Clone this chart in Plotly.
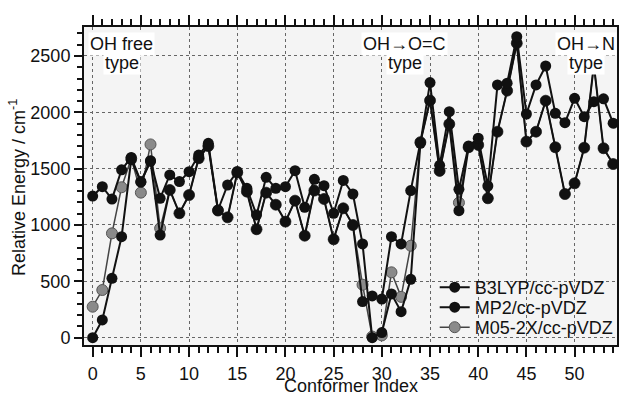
import plotly.graph_objects as go

conformer_index = list(range(55))

b3lyp = [1257, 1340, 1230, 1490, 1600, 1385, 1570, 1237, 1444, 1385,
         1473, 1620, 1725, 1133, 1355, 1475, 1325, 1089, 1423, 1325,
         1340, 1482, 1157, 1405, 1349, 1104, 1395, 1275, 832, 0,
         45, 388, 231, 518, 1725, 2264, 1530, 2006, 1317, 1701,
         1770, 1346, 2243, 2258, 2671, 1985, 2243, 2411, 1991, 1908,
         2124, 1961, 2094, 2120, 1903]

mp2 = [0, 157, 527, 896, 1580, 1380, 1565, 911, 1311, 1104,
       1266, 1592, 1700, 1128, 1068, 1465, 1296, 962, 1287, 1180,
       1030, 1216, 905, 1305, 1231, 873, 1148, 1000, 320, 370,
       343, 896, 832, 1305, 1735, 2105, 1480, 1896, 1127, 1690,
       1710, 1237, 1828, 2192, 2613, 1740, 1828, 2103, 1690, 1275,
       1370, 1686, 2420, 1681, 1541]

m052x = [275, 423, 926, 1335, 1590, 1287, 1715, 971, 1311, 1104,
         1266, 1592, 1700, 1128, 1068, 1465, 1296, 962, 1287, 1180,
         1030, 1216, 905, 1305, 1231, 873, 1148, 1000, 470, 10,
         20, 580, 362, 816, 1735, 2105, 1480, 1896, 1198, 1690,
         1710, 1237, 1828, 2192, 2613, 1740, 1828, 2103, 1690, 1275,
         1370, 1686, 2420, 1681, 1541]

series_names = ["B3LYP/cc-pVDZ", "MP2/cc-pVDZ", "M05-2X/cc-pVDZ"]
x_ticks = [0, 5, 10, 15, 20, 25, 30, 35, 40, 45, 50]
y_ticks = [0, 500, 1000, 1500, 2000, 2500]
region_titles = ["OH free", "OH→O=C", "OH→N"]
region_sub = ["type", "type", "type"]
region_centers = [3.0, 32.4, 51.2]

FONT = "Liberation Sans, Arial, Helvetica, sans-serif"

fig = go.Figure()
fig.add_trace(go.Scatter(
    x=conformer_index, y=m052x, name=series_names[2], mode="lines+markers",
    line=dict(color="#444444", width=1.5),
    marker=dict(size=11, color="#8a8a8a", line=dict(color="#555555", width=1)),
    legend="legend3",
))
fig.add_trace(go.Scatter(
    x=conformer_index, y=mp2, name=series_names[1], mode="lines+markers",
    line=dict(color="#111111", width=2),
    marker=dict(size=11, color="#111111"),
    legend="legend2",
))
fig.add_trace(go.Scatter(
    x=conformer_index, y=b3lyp, name=series_names[0], mode="lines+markers",
    line=dict(color="#111111", width=2),
    marker=dict(size=11, color="#111111"),
    legend="legend",
))

# plot area: top 27 px, bottom 345 px (318 px tall)
def ypaper(px):
    return (345 - px) / 318.0

for t, s, cx in zip(region_titles, region_sub, region_centers):
    fig.add_annotation(
        x=cx, xref="x", y=ypaper(44), yref="paper", yanchor="middle", xanchor="center",
        text=t, showarrow=False, font=dict(family=FONT, size=18, color="#111111"),
        bgcolor="white", borderpad=1,
    )
    fig.add_annotation(
        x=cx, xref="x", y=ypaper(63), yref="paper", yanchor="middle", xanchor="center",
        text=s, showarrow=False, font=dict(family=FONT, size=18, color="#111111"),
        bgcolor="white", borderpad=1,
    )

# axis titles
fig.add_annotation(
    x=0.5, xref="paper", y=ypaper(386), yref="paper", yanchor="middle", xanchor="center",
    text="Conformer Index", showarrow=False, font=dict(family=FONT, size=18, color="#111111"),
)
fig.add_annotation(
    x=(17 - 84) / 533.0, xref="paper", y=ypaper(188), yref="paper",
    yanchor="middle", xanchor="center", textangle=-90,
    text="Relative Energy / cm<sup>-1</sup>", showarrow=False,
    font=dict(family=FONT, size=18, color="#111111"),
)

legend_common = dict(
    xanchor="left", yanchor="top", bgcolor="rgba(0,0,0,0)",
    font=dict(family=FONT, size=18, color="#111111"), itemwidth=30,
)
LX = 0.658
fig.update_layout(
    width=622, height=394,
    margin=dict(l=84, r=5, t=27, b=49, autoexpand=False),
    paper_bgcolor="white", plot_bgcolor="#f4f4f4",
    font=dict(family=FONT, size=18, color="#111111"),
    showlegend=True,
    legend=dict(x=LX, y=ypaper(269), **legend_common),
    legend2=dict(x=LX, y=ypaper(289), **legend_common),
    legend3=dict(x=LX, y=ypaper(309), **legend_common),
)

fig.update_xaxes(
    range=[-0.9, 54.4], tickvals=x_ticks, ticks="outside", ticklen=10, tickwidth=1.5,
    tickcolor="#111111", showline=True, linecolor="#111111", linewidth=2,
    mirror="allticks", showgrid=True, gridcolor="#666666", gridwidth=1, griddash="dot",
    zeroline=False, automargin=False, ticklabelstandoff=1,
    minor=dict(dtick=1, ticks="outside", ticklen=6, tickcolor="#111111", showgrid=False),
    tickfont=dict(family=FONT, size=18),
)
fig.update_yaxes(
    range=[-65, 2757], tickvals=y_ticks, ticks="outside", ticklen=8, tickwidth=1.5,
    tickcolor="#111111", showline=True, linecolor="#111111", linewidth=2,
    mirror=True, showgrid=True, gridcolor="#666666", gridwidth=1, griddash="dot",
    zeroline=False, automargin=False,
    minor=dict(dtick=100, ticks="outside", ticklen=5, tickcolor="#111111", showgrid=False),
    tickfont=dict(family=FONT, size=18),
)

fig.write_html(
    "out.html",
    config={"displayModeBar": False},
    post_script=["document.body.style.margin='0px'; document.body.style.padding='0px';"],
)
